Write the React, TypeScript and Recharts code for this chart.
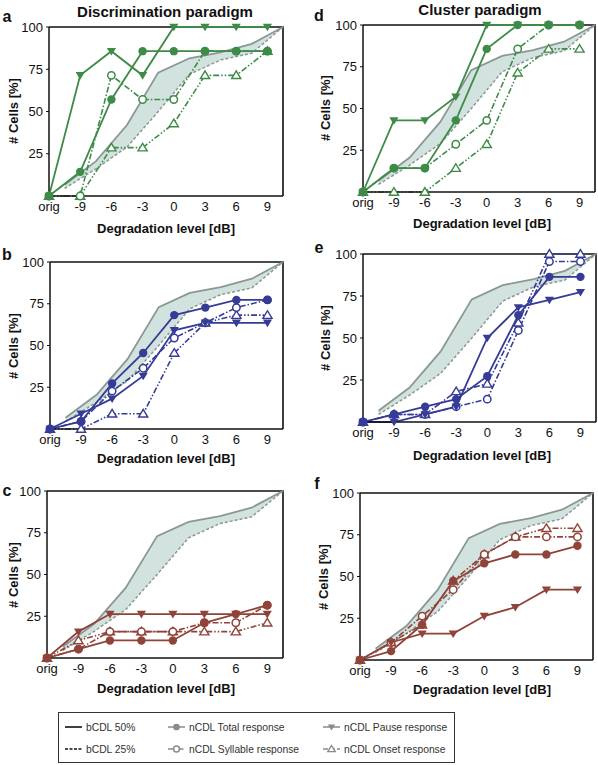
import { Area, ComposedChart, Line, XAxis, YAxis } from 'recharts'

// x positions (dB), "orig" sits left of -9
const XS = [-12, -9, -6, -3, 0, 3, 6, 9]
const X_TICK_LABELS = ['orig', '-9', '-6', '-3', '0', '3', '6', '9']
const Y_TICKS = [25, 50, 75, 100]

// bCDL reference band (same in every panel)
const BAND_X = [-10.5, -7.5, -4.5, -1.5, 1.5, 4.5, 7.5, 10.5]
const BCDL_50 = [6.7, 20.5, 42, 73, 81.5, 85, 90, 100]
const BCDL_25 = [4.5, 16, 29, 50, 72, 80.5, 84.5, 100]

// discrimination paradigm
const A_TOTAL = [0, 14.3, 57.1, 85.7, 85.7, 85.7, 85.7, 85.7]
const A_SYLL = [0, 0, 71.4, 57.1, 57.1, 85.7, 85.7, 85.7]
const A_PAUSE = [0, 71.4, 85.7, 71.4, 100, 100, 100, 100]
const A_ONSET = [0, 0, 28.6, 28.6, 42.9, 71.4, 71.4, 85.7]

const B_TOTAL = [0, 4.5, 27.3, 45.5, 68.2, 72.7, 77.3, 77.3]
const B_SYLL = [0, 4.5, 22.7, 36.4, 54.5, 63.6, 72.7, 77.3]
const B_PAUSE = [0, 9.1, 18.2, 31.8, 59.1, 63.6, 63.6, 63.6]
const B_ONSET = [0, 0, 9.1, 9.1, 45.5, 63.6, 68.2, 68.2]

const C_TOTAL = [0, 5.3, 10.5, 10.5, 10.5, 21.1, 26.3, 31.6]
const C_SYLL = [0, 5.3, 15.8, 15.8, 15.8, 21.1, 21.1, 31.6]
const C_PAUSE = [0, 15.8, 26.3, 26.3, 26.3, 26.3, 26.3, 26.3]
const C_ONSET = [0, 10.5, 15.8, 15.8, 15.8, 15.8, 15.8, 21.1]

// cluster paradigm
const D_TOTAL = [0, 14.3, 14.3, 42.9, 85.7, 100, 100, 100]
const D_SYLL = [0, 14.3, 14.3, 28.6, 42.9, 85.7, 100, 100]
const D_PAUSE = [0, 42.9, 42.9, 57.1, 100, 100, 100, 100]
const D_ONSET = [0, 0, 0, 14.3, 28.6, 71.4, 85.7, 85.7]

const E_TOTAL = [0, 4.5, 9.1, 13.6, 27.3, 63.6, 86.4, 86.4]
const E_SYLL = [0, 4.5, 4.5, 9.1, 13.6, 54.5, 95.5, 95.5]
const E_PAUSE = [0, 0, 4.5, 9.1, 50, 68.2, 72.7, 77.3]
const E_ONSET = [0, 4.5, 4.5, 18.2, 22.7, 59.1, 100, 100]

const F_TOTAL = [0, 5.3, 21.1, 47.4, 57.9, 63.2, 63.2, 68.4]
const F_SYLL = [0, 10.5, 26.3, 42.1, 63.2, 73.7, 73.7, 73.7]
const F_PAUSE = [0, 10.5, 15.8, 15.8, 26.3, 31.6, 42.1, 42.1]
const F_ONSET = [0, 10.5, 21.1, 47.4, 63.2, 73.7, 78.9, 78.9]

const GREEN = '#3d8b47'
const BLUE = '#363b96'
const BROWN = '#8f4339'
const BAND_FILL = '#d2e2de'
const BAND_LINE = '#8a9894'
const FONT = '"Liberation Sans", Arial, Helvetica, sans-serif'

const YW = 45
const MT = 10
const MR = 6
const XH = 30

const DASH_SYLL = '6 2 1.5 2'
const DASH_ONSET = '6 2 1.5 2 1.5 2'

type Kind = 'total' | 'syll' | 'pause' | 'onset'

const makeDot = (kind: Kind, color: string, size = 1) => (props: any) => {
  const { cx, cy, index } = props
  const k = `${kind}-${index}`
  if (cx == null || cy == null || Number.isNaN(cy)) return <g key={k} />
  if (kind === 'total') return <circle key={k} cx={cx} cy={cy} r={4.2 * size} fill={color} />
  if (kind === 'syll')
    return <circle key={k} cx={cx} cy={cy} r={3.7 * size} fill="#fff" stroke={color} strokeWidth={1.5} />
  const s = 4.6 * size
  if (kind === 'pause')
    return (
      <path key={k} d={`M${cx - s},${cy - s * 0.7} L${cx + s},${cy - s * 0.7} L${cx},${cy + s * 0.95} Z`} fill={color} />
    )
  return (
    <path
      key={k}
      d={`M${cx - s},${cy + s * 0.7} L${cx + s},${cy + s * 0.7} L${cx},${cy - s * 0.95} Z`}
      fill="#fff"
      stroke={color}
      strokeWidth={1.4}
    />
  )
}

interface PanelProps {
  left: number
  top: number
  w: number
  h: number
  color: string
  total: number[]
  syll: number[]
  pause: number[]
  onset: number[]
}

function Panel({ left, top, w, h, color, total, syll, pause, onset }: PanelProps) {
  const rows: any[] = [
    ...XS.map((x, i) => ({ x, total: total[i], syll: syll[i], pause: pause[i], onset: onset[i] })),
    ...BAND_X.map((x, i) => ({ x, band: [BCDL_25[i], BCDL_50[i]], b50: BCDL_50[i], b25: BCDL_25[i] })),
  ].sort((p, q) => p.x - q.x)

  const tick = { fontSize: 13, fill: '#111', fontFamily: FONT }
  const frame = { stroke: '#111', strokeWidth: 1.5 }

  return (
    <div style={{ position: 'absolute', left: left - YW, top: top - MT, width: YW + w + MR, height: MT + h + XH }}>
      {/* plot frame drawn as plain svg underneath the chart */}
      <svg width={YW + w + MR} height={MT + h + XH} style={{ position: 'absolute', left: 0, top: 0 }}>
        <path d={`M${YW},${MT} H${YW + w} V${MT + h}`} fill="none" stroke="#111" strokeWidth={1.6} />
      </svg>
      <div style={{ position: 'absolute', left: 0, top: 0 }}>
        <ComposedChart width={YW + w + MR} height={MT + h + XH} data={rows} margin={{ top: MT, right: MR, left: 0, bottom: 0 }}>
          <XAxis
            type="number"
            dataKey="x"
            domain={[-12, 10.5]}
            ticks={XS}
            tickFormatter={(v: number) => X_TICK_LABELS[XS.indexOf(v)] ?? ''}
            tick={tick}
            tickLine={false}
            tickSize={4}
            tickMargin={2}
            axisLine={frame}
            height={XH}
            interval={0}
          />
          <YAxis
            type="number"
            domain={[0, 100]}
            ticks={Y_TICKS}
            tick={tick}
            tickLine={{ stroke: '#111' }}
            tickSize={3}
            tickMargin={3}
            axisLine={frame}
            width={YW}
          />
          <Area
            dataKey="band"
            connectNulls
            type="linear"
            fill={BAND_FILL}
            fillOpacity={1}
            stroke="none"
            isAnimationActive={false}
          />
          <Line dataKey="b50" connectNulls type="linear" stroke={BAND_LINE} strokeWidth={1.8} dot={false} isAnimationActive={false} />
          <Line
            dataKey="b25"
            connectNulls
            type="linear"
            stroke={BAND_LINE}
            strokeWidth={1.5}
            strokeDasharray="3 2"
            dot={false}
            isAnimationActive={false}
          />
          <Line
            dataKey="onset"
            connectNulls
            type="linear"
            stroke={color}
            strokeWidth={1.6}
            strokeDasharray={DASH_ONSET}
            dot={makeDot('onset', color)}
            isAnimationActive={false}
          />
          <Line
            dataKey="syll"
            connectNulls
            type="linear"
            stroke={color}
            strokeWidth={1.6}
            strokeDasharray={DASH_SYLL}
            dot={makeDot('syll', color)}
            isAnimationActive={false}
          />
          <Line dataKey="pause" connectNulls type="linear" stroke={color} strokeWidth={1.8} dot={makeDot('pause', color)} isAnimationActive={false} />
          <Line dataKey="total" connectNulls type="linear" stroke={color} strokeWidth={1.8} dot={makeDot('total', color)} isAnimationActive={false} />
        </ComposedChart>
      </div>
    </div>
  )
}

const abs = (left: number, top: number, extra: any = {}) => ({ position: 'absolute' as const, left, top, ...extra })

function Txt({ x, y, children, size = 13, bold = true, rotate = false, center = true }: any) {
  return (
    <div
      style={abs(x, y, {
        fontSize: size,
        fontWeight: bold ? 'bold' : 'normal',
        whiteSpace: 'nowrap',
        lineHeight: 1,
        color: '#111',
        transform: `translate(${center ? '-50%' : '0'}, -50%)${rotate ? ' rotate(-90deg)' : ''}`,
      })}
    >
      {children}
    </div>
  )
}

function LegendMark({ x, y, kind }: { x: number; y: number; kind: Kind | 'b50' | 'b25' }) {
  const grey = '#8a8a8a'
  if (kind === 'b50') return <line x1={x} x2={x + 17} y1={y} y2={y} stroke="#111" strokeWidth={1.6} />
  if (kind === 'b25') return <line x1={x} x2={x + 17} y1={y} y2={y} stroke="#111" strokeWidth={1.4} strokeDasharray="3 1.5" />
  const dash = kind === 'syll' ? '5 2 1.5 2' : kind === 'onset' ? '5 2 1.5 2 1.5 2' : undefined
  return (
    <g>
      <line x1={x} x2={x + 17} y1={y} y2={y} stroke={grey} strokeWidth={1.5} strokeDasharray={dash} />
      {makeDot(kind, grey, 0.8)({ cx: x + 8.5, cy: y, index: 0 })}
    </g>
  )
}

function LegendBox() {
  const items: { kind: any; label: string; x: number; y: number }[] = [
    { kind: 'b50', label: 'bCDL 50%', x: 7, y: 15 },
    { kind: 'b25', label: 'bCDL 25%', x: 7, y: 37 },
    { kind: 'total', label: 'nCDL Total response', x: 110, y: 15 },
    { kind: 'syll', label: 'nCDL Syllable response', x: 110, y: 37 },
    { kind: 'pause', label: 'nCDL Pause response', x: 265, y: 15 },
    { kind: 'onset', label: 'nCDL Onset response', x: 265, y: 37 },
  ]
  return (
    <div style={abs(58, 712, { width: 397, height: 51, border: '1px solid #333', boxSizing: 'border-box' })}>
      <svg width={397} height={51} style={{ position: 'absolute', left: -1, top: -1 }}>
        {items.map((it) => (
          <g key={it.label}>
            <LegendMark x={it.x} y={it.y} kind={it.kind} />
            <text x={it.x + 21} y={it.y + 4} fontSize={10.3} fill="#333" fontFamily={FONT}>
              {it.label}
            </text>
          </g>
        ))}
      </svg>
    </div>
  )
}

export default function App() {
  return (
    <div style={abs(0, 0, { width: 598, height: 765, background: '#fff', fontFamily: FONT, overflow: 'hidden' })}>
      <Txt x={165} y={11} size={15}>Discrimination paradigm</Txt>
      <Txt x={480} y={9} size={15}>Cluster paradigm</Txt>

      <Txt x={7} y={17} size={16}>a</Txt>
      <Txt x={319} y={16} size={16}>d</Txt>
      <Txt x={7} y={255} size={16}>b</Txt>
      <Txt x={319} y={248} size={16}>e</Txt>
      <Txt x={7} y={491} size={16}>c</Txt>
      <Txt x={317} y={484} size={16}>f</Txt>

      <Panel left={49} top={27} w={234} h={169} color={GREEN} total={A_TOTAL} syll={A_SYLL} pause={A_PAUSE} onset={A_ONSET} />
      <Panel left={50} top={262} w={233} h={167} color={BLUE} total={B_TOTAL} syll={B_SYLL} pause={B_PAUSE} onset={B_ONSET} />
      <Panel left={47} top={491} w={236} h={167} color={BROWN} total={C_TOTAL} syll={C_SYLL} pause={C_PAUSE} onset={C_ONSET} />
      <Panel left={363} top={25} w={232} h={167} color={GREEN} total={D_TOTAL} syll={D_SYLL} pause={D_PAUSE} onset={D_ONSET} />
      <Panel left={363} top={254} w={233} h={168} color={BLUE} total={E_TOTAL} syll={E_SYLL} pause={E_PAUSE} onset={E_ONSET} />
      <Panel left={360} top={493} w={233} h={167} color={BROWN} total={F_TOTAL} syll={F_SYLL} pause={F_PAUSE} onset={F_ONSET} />

      <Txt x={13} y={111} rotate>{'# Cells [%]'}</Txt>
      <Txt x={13} y={346} rotate>{'# Cells [%]'}</Txt>
      <Txt x={13} y={575} rotate>{'# Cells [%]'}</Txt>
      <Txt x={325} y={108} rotate>{'# Cells [%]'}</Txt>
      <Txt x={325} y={338} rotate>{'# Cells [%]'}</Txt>
      <Txt x={323} y={577} rotate>{'# Cells [%]'}</Txt>

      <Txt x={166} y={228}>Degradation level [dB]</Txt>
      <Txt x={482} y={223}>Degradation level [dB]</Txt>
      <Txt x={166} y={458}>Degradation level [dB]</Txt>
      <Txt x={482} y={455}>Degradation level [dB]</Txt>
      <Txt x={166} y={688}>Degradation level [dB]</Txt>
      <Txt x={482} y={689}>Degradation level [dB]</Txt>

      <LegendBox />
    </div>
  )
}
